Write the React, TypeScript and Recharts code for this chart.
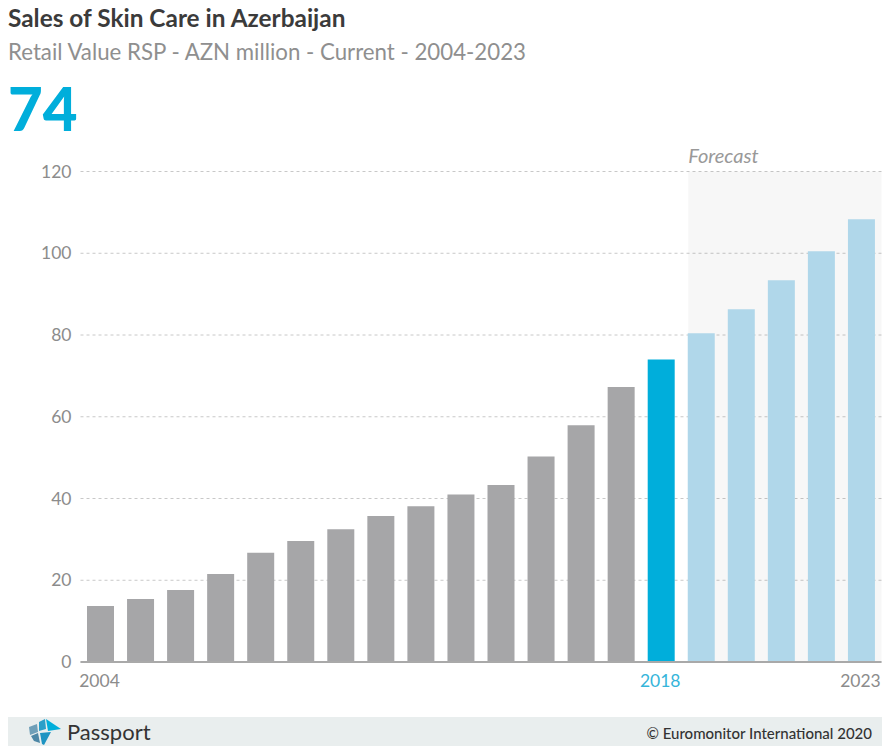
import React from "react";
import {
  BarChart,
  Bar,
  Cell,
  XAxis,
  YAxis,
  CartesianGrid,
  ReferenceArea,
} from "recharts";

const years = [
  "2004", "2005", "2006", "2007", "2008", "2009", "2010", "2011", "2012", "2013",
  "2014", "2015", "2016", "2017", "2018", "2019", "2020", "2021", "2022", "2023",
];
const sales = [
  13.7, 15.4, 17.6, 21.5, 26.7, 29.6, 32.5, 35.7, 38.1, 41,
  43.3, 50.3, 57.9, 67.3, 74, 80.4, 86.3, 93.4, 100.5, 108.3,
];
const yearTicks = ["2004", "2018", "2023"];
const valueTicks = [0, 20, 40, 60, 80, 100, 120];
const currentYear = "2018";
const forecastYears = ["2019", "2020", "2021", "2022", "2023"];

const GREY = "#a6a6a8";
const BLUE = "#00aedb";
const LIGHT_BLUE = "#b0d7ea";
const FONT = "Lato, sans-serif";

const data = years.map((year, i) => ({ year, sales: sales[i] }));

const barColor = (year: string) => {
  if (year === currentYear) return BLUE;
  if (forecastYears.includes(year)) return LIGHT_BLUE;
  return GREY;
};

const YearTick = (props: any) => {
  const { x, y, payload } = props;
  return (
    <text
      x={x - 1}
      y={y + 17}
      textAnchor="middle"
      fontSize={17.5}
      fontFamily={FONT}
      fill={payload.value === currentYear ? "#35b5da" : "#8c8c8c"}
    >
      {payload.value}
    </text>
  );
};

// the shaded box starts at the first forecast bar, not at its band
const ForecastBox = (props: any) => {
  const { x, y, width, height } = props;
  return (
    <g>
      <rect x={x + 7} y={y} width={width - 7} height={height} fill="#000" fillOpacity={0.03} />
      <text
        x={x + 7}
        y={y - 9}
        fontSize={20}
        fontStyle="italic"
        fontFamily={FONT}
        fill="#999"
      >
        Forecast
      </text>
    </g>
  );
};

const Logo = () => (
  <svg width={36} height={28} viewBox="0 0 36 28" style={{ position: "absolute", left: 19, top: 1 }}>
    <polygon points="2,9 10,6 11,14 3,17" fill="#6f9fb8" />
    <polygon points="12,4 18,1 19,11 12,13" fill="#2a9fc9" />
    <polygon points="19,1 34,11 21,13" fill="#00aedb" />
    <polygon points="4,18 11,15 13,25 7,23" fill="#4d87a6" />
    <polygon points="13,15 24,14 17,27 15,26" fill="#1d94c2" />
  </svg>
);

export default function App() {
  return (
    <div
      style={{
        position: "absolute",
        left: 0,
        top: 0,
        width: 882,
        height: 746,
        overflow: "hidden",
        background: "#fff",
        fontFamily: FONT,
      }}
    >
      <div style={{ position: "absolute", left: 8, top: 3, fontSize: 24.4, fontWeight: 700, color: "#3b3b3b", whiteSpace: "nowrap" }}>
        Sales of Skin Care in Azerbaijan
      </div>
      <div style={{ position: "absolute", left: 8, top: 38, fontSize: 22.25, color: "#8f8f8f", whiteSpace: "nowrap" }}>
        Retail Value RSP - AZN million - Current - 2004-2023
      </div>
      <div style={{ position: "absolute", left: 8, top: 70, fontSize: 60, lineHeight: "76px", fontWeight: 900, color: BLUE }}>
        74
      </div>

      <div style={{ position: "absolute", left: 0, top: 0 }}>
        <BarChart
          width={882}
          height={700}
          data={data}
          barCategoryGap={6.5}
          margin={{ top: 171.5, right: 0.5, bottom: 8, left: 0.5 }}
        >
          <CartesianGrid
            horizontal
            vertical={false}
            stroke="#c8c8c8"
            strokeDasharray="3 3"
            syncWithTicks
          />
          <ReferenceArea
            x1={forecastYears[0]}
            x2={forecastYears[forecastYears.length - 1]}
            y1={0}
            y2={120}
            shape={<ForecastBox />}
          />
          <XAxis
            dataKey="year"
            ticks={yearTicks}
            interval={0}
            tick={<YearTick />}
            tickLine={false}
            axisLine={{ stroke: "#a9a9a9", strokeWidth: 2 }}
          />
          <YAxis
            domain={[0, 120]}
            ticks={valueTicks}
            width={80}
            tickLine={false}
            axisLine={false}
            tickMargin={3}
            tick={{ fontSize: 17.5, fontFamily: FONT, fill: "#8c8c8c" }}
          />
          <Bar dataKey="sales" isAnimationActive={false}>
            {data.map((d) => (
              <Cell key={d.year} fill={barColor(d.year)} />
            ))}
          </Bar>
        </BarChart>
      </div>

      <div style={{ position: "absolute", left: 8, top: 717, width: 874, height: 29, background: "#e9eeee" }}>
        <Logo />
        <div style={{ position: "absolute", left: 59, top: 1, fontSize: 22, color: "#333" }}>Passport</div>
        <div style={{ position: "absolute", right: 10, top: 7, fontSize: 15, color: "#333", fontWeight: 500 }}>
          © Euromonitor International 2020
        </div>
      </div>
    </div>
  );
}
